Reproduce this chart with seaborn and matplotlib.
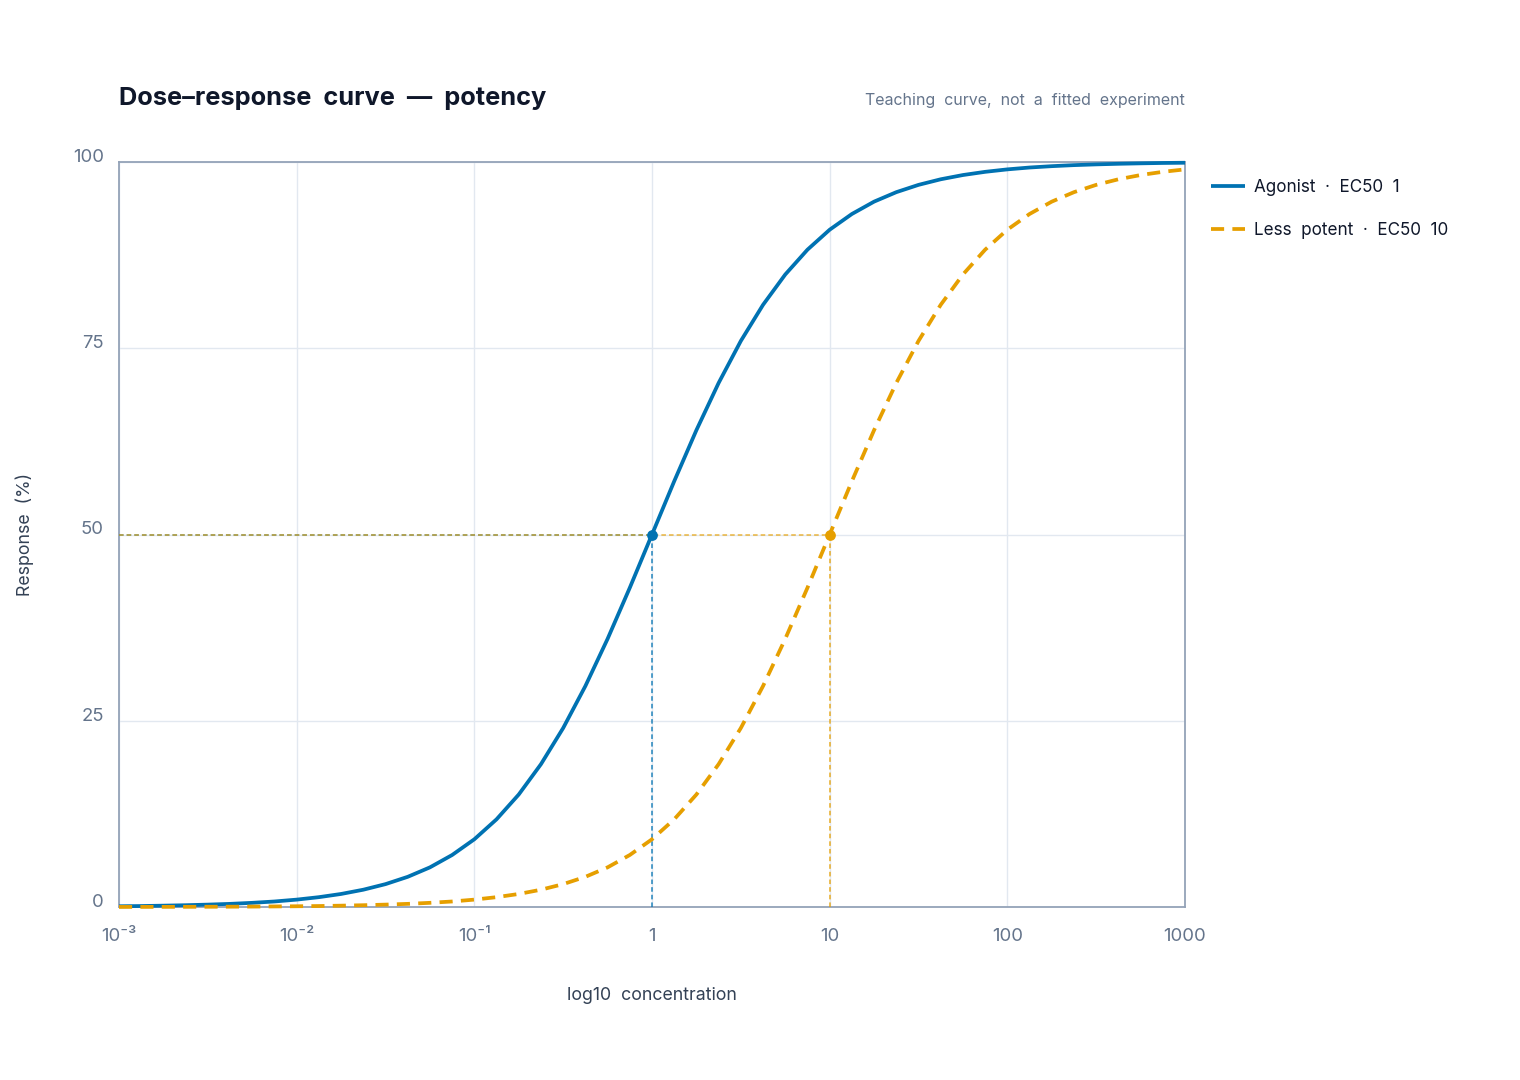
import numpy as np
import pandas as pd
import seaborn as sns
import matplotlib.pyplot as plt

# log10 concentration grid (eighth-decade steps) and responses
log_conc = [
    -3.0, -2.875, -2.75, -2.625, -2.5, -2.375, -2.25, -2.125,
    -2.0, -1.875, -1.75, -1.625, -1.5, -1.375, -1.25, -1.125,
    -1.0, -0.875, -0.75, -0.625, -0.5, -0.375, -0.25, -0.125,
    0.0, 0.125, 0.25, 0.375, 0.5, 0.625, 0.75, 0.875,
    1.0, 1.125, 1.25, 1.375, 1.5, 1.625, 1.75, 1.875,
    2.0, 2.125, 2.25, 2.375, 2.5, 2.625, 2.75, 2.875, 3.0,
]
agonist = [
    0.10, 0.13, 0.18, 0.24, 0.32, 0.42, 0.56, 0.74,
    0.99, 1.32, 1.75, 2.32, 3.07, 4.05, 5.32, 6.98,
    9.09, 11.77, 15.10, 19.17, 24.02, 29.66, 35.99, 42.85,
    50.00, 57.15, 64.01, 70.34, 75.98, 80.83, 84.90, 88.23,
    90.91, 93.02, 94.68, 95.95, 96.93, 97.68, 98.25, 98.68,
    99.01, 99.26, 99.44, 99.58, 99.68, 99.76, 99.82, 99.87, 99.90,
]
less_potent = [
    0.01, 0.013, 0.018, 0.024, 0.032, 0.042, 0.056, 0.075,
    0.10, 0.13, 0.18, 0.24, 0.32, 0.42, 0.56, 0.74,
    0.99, 1.32, 1.75, 2.32, 3.07, 4.05, 5.32, 6.98,
    9.09, 11.77, 15.10, 19.17, 24.02, 29.66, 35.99, 42.85,
    50.00, 57.15, 64.01, 70.34, 75.98, 80.83, 84.90, 88.23,
    90.91, 93.02, 94.68, 95.95, 96.93, 97.68, 98.25, 98.68, 99.01,
]
series_names = ["Agonist  ·  EC50  1", "Less  potent  ·  EC50  10"]
ec50_log = [0.0, 1.0]
x_ticks = [-3, -2, -1, 0, 1, 2, 3]
x_tick_labels = ["10⁻³", "10⁻²", "10⁻¹", "1", "10", "100", "1000"]
y_ticks = [0, 25, 50, 75, 100]

BLUE = "#0072B2"
ORANGE = "#E69F00"
colors = [BLUE, ORANGE]

df = pd.concat([
    pd.DataFrame({"logc": log_conc, "response": agonist, "series": series_names[0]}),
    pd.DataFrame({"logc": log_conc, "response": less_potent, "series": series_names[1]}),
])

sns.set_theme(style="white")
plt.rcParams["font.family"] = ["Inter", "DejaVu Sans"]

fig = plt.figure(figsize=(15.2, 10.8), dpi=100)
ax = fig.add_axes([119 / 1520, 1 - 907 / 1080, (1185 - 119) / 1520, (907 - 162) / 1080])

sns.lineplot(
    data=df, x="logc", y="response", hue="series", style="series",
    palette=colors, dashes=[(1, 0), (3.5, 2.2)], linewidth=2.7, ax=ax,
    legend=True, zorder=4,
)
for line in ax.lines:
    line.set_clip_on(False)
    line.set_solid_joinstyle("round")

# EC50 guide lines and markers
for c, x50 in zip(colors, ec50_log):
    ax.plot([-3, x50], [50, 50], color=c, lw=1.1, ls=(0, (3, 2)), alpha=0.75, zorder=3)
    ax.plot([x50, x50], [0, 50], color=c, lw=1.1, ls=(0, (3, 2)), alpha=0.85, zorder=3)
    ax.scatter([x50], [50], s=60, color=c, zorder=5, linewidths=0)

ax.set_xlim(-3, 3)
ax.set_ylim(0, 100)
ax.set_xticks(x_ticks)
ax.set_xticklabels(x_tick_labels)
ax.set_yticks(y_ticks)
ax.grid(True, color="#e2e8f0", lw=1)
ax.set_axisbelow(True)
for s in ax.spines.values():
    s.set_color("#94a3b8")
    s.set_linewidth(1.3)
ax.tick_params(axis="both", length=0, labelsize=13.3, labelcolor="#64748b")
ax.tick_params(axis="x", pad=15)
ax.tick_params(axis="y", pad=11)
for lab in ax.get_yticklabels():
    lab.set_verticalalignment("baseline")

ax.set_xlabel("log10  concentration", fontsize=12.8, color="#334155", labelpad=30)
ax.set_ylabel("Response  (%)", fontsize=12.8, color="#334155", labelpad=28)

handles, labels = ax.get_legend_handles_labels()
ax.legend(
    handles, labels,
    loc="upper left", bbox_to_anchor=(1.01, 0.998), frameon=False,
    fontsize=12.3, handlelength=2.0, labelspacing=1.55, handletextpad=0.5,
    labelcolor="#0f172a",
)

fig.text(119 / 1520, 1 - 98 / 1080, "Dose–response  curve  —  potency",
         fontsize=18.3, fontweight="bold", color="#0f172a", va="center", ha="left")
fig.text(1185 / 1520, 1 - 101 / 1080, "Teaching  curve,  not  a  fitted  experiment",
         fontsize=11.5, color="#64748b", va="center", ha="right")

fig.savefig("out.png", dpi=100, facecolor="white")
